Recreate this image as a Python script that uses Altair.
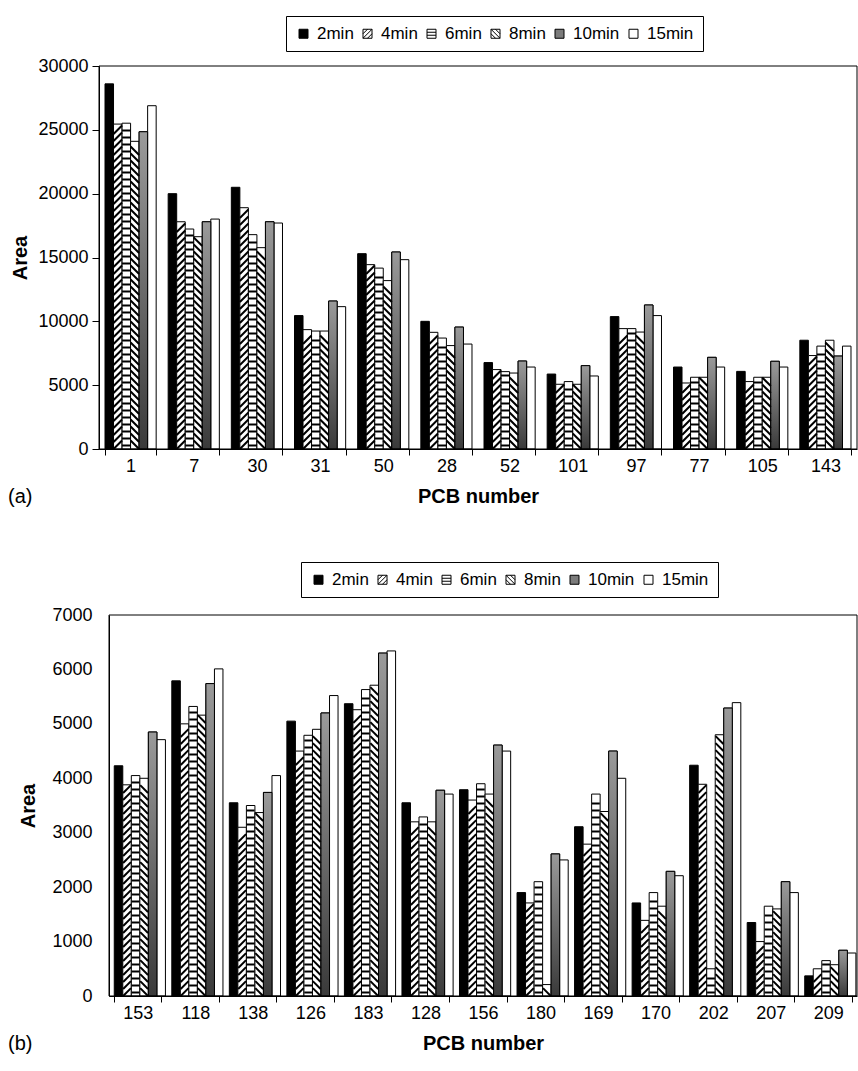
import altair as alt
import pandas as pd

SERIES = ["2min", "4min", "6min", "8min", "10min", "15min"]

PCB_A = ["1", "7", "30", "31", "50", "28", "52", "101", "97", "77", "105", "143"]
A_2MIN = [28600, 20000, 20500, 10450, 15300, 10000, 6770, 5870, 10370, 6420, 6080, 8520]
A_4MIN = [25450, 17800, 18900, 9350, 14440, 9140, 6220, 5070, 9430, 5170, 5280, 7320]
A_6MIN = [25520, 17230, 16790, 9240, 14170, 8690, 6060, 5280, 9430, 5620, 5620, 8060]
A_8MIN = [24100, 16630, 15770, 9240, 13190, 8100, 5950, 5070, 9160, 5620, 5620, 8520]
A_10MIN = [24850, 17800, 17800, 11590, 15430, 9550, 6890, 6530, 11280, 7180, 6870, 7280]
A_15MIN = [26890, 18010, 17700, 11150, 14830, 8220, 6420, 5720, 10450, 6420, 6420, 8060]

PCB_B = ["153", "118", "138", "126", "183", "128", "156", "180", "169", "170", "202", "207", "209"]
B_2MIN = [4230, 5790, 3550, 5050, 5370, 3550, 3790, 1900, 3110, 1710, 4240, 1350, 370]
B_4MIN = [3880, 5000, 3100, 4500, 5260, 3200, 3600, 1710, 2790, 1390, 3890, 1000, 500]
B_6MIN = [4050, 5320, 3500, 4790, 5630, 3290, 3900, 2100, 3710, 1900, 500, 1650, 650]
B_8MIN = [4000, 5160, 3370, 4900, 5710, 3200, 3710, 210, 3390, 1650, 4800, 1600, 575]
B_10MIN = [4850, 5740, 3740, 5200, 6300, 3780, 4610, 2610, 4500, 2290, 5290, 2100, 840]
B_15MIN = [4710, 6010, 4050, 5520, 6340, 3710, 4500, 2500, 4000, 2210, 5390, 1900, 790]

FILL_RANGE = ["#000000", "#ffffff", "#ffffff", "#ffffff", "#7b7b7b", "#ffffff"]
STROKE_RANGE = ["#000000"] * 6
SQ = "M-1,-1H1V1H-1Z"
LEGEND_SHAPES = [
    SQ,
    SQ + " M-1,0L0,-1 M-1,1L1,-1 M0,1L1,0",
    SQ + " M-1,-0.33H1 M-1,0.33H1",
    SQ + " M-1,0L0,1 M-1,-1L1,1 M0,-1L1,0",
    SQ,
    SQ,
]
FONT = "Liberation Sans"


def long_df(pcbs, cols):
    rows = []
    for s, vals in zip(SERIES, cols):
        for p, v in zip(pcbs, vals):
            rows.append({"pcb": p, "series": s, "value": v})
    return pd.DataFrame(rows)


def stripe_df(df, series, ymax, height, period_px, margin_px):
    upp = ymax / height
    rows = []
    sub = df[df["series"] == series]
    for _, r in sub.iterrows():
        y = margin_px * upp
        while y <= r["value"] - margin_px * upp:
            rows.append({"pcb": r["pcb"], "series": series, "sy": y})
            y += period_px * upp
    return pd.DataFrame(rows)


def panel(pcbs, cols, ymax, ystep, width, x_start, height, pad, yaxis, legend_xy, label):
    df = long_df(pcbs, cols)
    bw = (width - x_start) / len(pcbs) * (1 - pad) / 6
    xscale = alt.Scale(range=[x_start, width], paddingInner=pad, paddingOuter=pad / 2)
    xaxis = alt.Axis(labelAngle=0, tickBand="extent", tickSize=6, labelPadding=2,
                     labelFontSize=18, titleFontSize=20, titleFontWeight="bold",
                     titlePadding=11, domainColor="black", tickColor="black")
    x = alt.X("pcb:N", sort=pcbs, scale=xscale, title="PCB number", axis=xaxis)
    xo = alt.XOffset("series:N", scale=alt.Scale(domain=SERIES))
    yscale = alt.Scale(domain=[0, ymax], nice=False)
    yax = alt.Axis(values=list(range(0, ymax + 1, ystep)), format="d",
                   labelFontSize=18, titleFontSize=20, titleFontWeight="bold",
                   domainColor="black", tickColor="black", offset=-x_start, **yaxis)
    leg = alt.Legend(title=None, orient="none", legendX=legend_xy[0], legendY=legend_xy[1],
                     direction="horizontal", columns=6, strokeColor="black", padding=9,
                     labelFontSize=17, labelFont=FONT, labelColor="black", symbolSize=81,
                     symbolStrokeColor="black", symbolStrokeWidth=1, symbolOpacity=1,
                     labelOffset=5, columnPadding=5)
    fill = alt.Fill("series:N", scale=alt.Scale(domain=SERIES, range=FILL_RANGE), legend=leg)

    bars = alt.Chart(df).mark_bar(stroke="black", strokeWidth=1).encode(
        x=x, xOffset=xo,
        y=alt.Y("value:Q", scale=yscale, title="Area", axis=yax),
        fill=fill,
    )
    grad = alt.Chart(df).transform_filter(alt.datum.series == "10min").mark_bar(
        stroke="black", strokeWidth=1,
        fill=alt.Gradient(gradient="linear", x1=0, x2=0, y1=0, y2=1,
                          stops=[alt.GradientStop(color="#9a9a9a", offset=0),
                                 alt.GradientStop(color="#3a3a3a", offset=1)]),
    ).encode(x=x, xOffset=xo, y=alt.Y("value:Q", scale=yscale, title="Area", axis=yax))

    layers = [bars, grad]
    specs = [("4min", "M-1,1L1,-1", bw / 2), ("6min", "M-1,0L1,0", 3.5), ("8min", "M-1,-1L1,1", bw / 2)]
    for s, path, margin in specs:
        sd = stripe_df(df, s, ymax, height, 7, margin)
        layers.append(
            alt.Chart(sd).mark_point(shape=path, size=bw * bw, stroke="black", strokeWidth=2,
                                     filled=False, opacity=1).encode(
                x=x, xOffset=xo, y=alt.Y("sy:Q", scale=yscale, title="Area", axis=yax))
        )
    helper = alt.Chart(df).transform_filter("false").mark_point(
        filled=True, strokeWidth=1, opacity=1).encode(
        fill=fill,
        stroke=alt.Stroke("series:N", scale=alt.Scale(domain=SERIES, range=STROKE_RANGE), legend=leg),
        shape=alt.Shape("series:N", scale=alt.Scale(domain=SERIES, range=LEGEND_SHAPES), legend=leg),
    )
    frame = alt.Chart(pd.DataFrame({"f": [0]})).mark_rect(
        fill="transparent", stroke="black", strokeWidth=1).encode(
        x=alt.value(x_start), x2=alt.value(width), y=alt.value(0), y2=alt.value(height))
    layers += [helper, frame]
    return alt.layer(*layers).properties(
        width=width, height=height,
        title=alt.TitleParams(text=label, orient="bottom", anchor="start", frame="group",
                              dx=-91, offset=-19, fontSize=20, fontWeight="normal",
                              font=FONT, color="black"),
    )


top = panel(PCB_A, [A_2MIN, A_4MIN, A_6MIN, A_8MIN, A_10MIN, A_15MIN], 30000, 5000,
            758, 0, 383, 0.19, dict(tickSize=7, labelPadding=4, titlePadding=7),
            (187, -50), "(a)")
bottom = panel(PCB_B, [B_2MIN, B_4MIN, B_6MIN, B_8MIN, B_10MIN, B_15MIN], 7000, 1000,
               758, 10, 381, 0.183, dict(ticks=False, labelPadding=17, titlePadding=13),
               (202, -53), "(b)")

chart = alt.concat(top, bottom, columns=1, spacing=54).resolve_scale(
    fill="independent", shape="independent", stroke="independent"
).resolve_legend(fill="independent", shape="independent", stroke="independent").properties(
    padding={"left": 8, "top": 15, "right": 0, "bottom": 0}
).configure(font=FONT).configure_view(stroke=None).configure_axis(
    grid=False, labelColor="black", titleColor="black", labelFont=FONT, titleFont=FONT
)

chart.save("out.html", embed_options={"renderer": "svg", "actions": False})
